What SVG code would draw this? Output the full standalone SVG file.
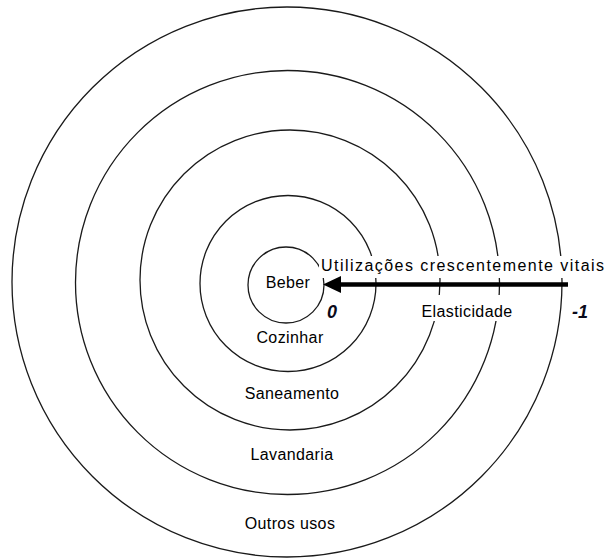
<svg xmlns="http://www.w3.org/2000/svg" width="609" height="558" viewBox="0 0 609 558">
<style>
.ring{fill:none;stroke:#1a1a1a;stroke-width:1.3}
.lbl{font-family:"Liberation Sans",Arial,sans-serif;font-size:16px;letter-spacing:0.4px;fill:#000;text-anchor:middle}
.num{font-family:"Liberation Sans",Arial,sans-serif;font-size:18px;font-weight:bold;font-style:italic;fill:#0a0a1a}
</style>
<rect width="609" height="558" fill="#fff"/>
<g id="outros-usos">
<circle class="ring" cx="287" cy="282" r="275"/>
<text class="lbl" x="290" y="529">Outros usos</text>
</g>
<g id="lavandaria">
<circle class="ring" cx="287.5" cy="282.5" r="212"/>
<text class="lbl" x="292" y="460">Lavandaria</text>
</g>
<g id="saneamento">
<circle class="ring" cx="290" cy="280" r="150"/>
<text class="lbl" x="292" y="399">Saneamento</text>
</g>
<g id="cozinhar">
<circle class="ring" cx="288" cy="283.5" r="88"/>
<text class="lbl" x="290" y="343">Cozinhar</text>
</g>
<g id="beber">
<circle class="ring" cx="286" cy="285" r="38"/>
<text class="lbl" x="288" y="288">Beber</text>
</g>
<g id="connectors">
<rect x="319" y="256" width="289" height="22" fill="#fff"/>
<text class="lbl" x="321" y="271" style="text-anchor:start;letter-spacing:0" textLength="283" lengthAdjust="spacing">Utilizações crescentemente vitais</text>
<line x1="338" y1="284.5" x2="568" y2="284.5" stroke="#000" stroke-width="4.5"/>
<polygon points="323,284.5 341,276 341,293" fill="#000"/>
<rect x="416" y="295" width="104" height="26" fill="#fff"/>
<text class="lbl" x="467" y="317">Elasticidade</text>
<text class="num" x="327" y="318">0</text>
<text class="num" x="572" y="318">-1</text>
</g>
</svg>
